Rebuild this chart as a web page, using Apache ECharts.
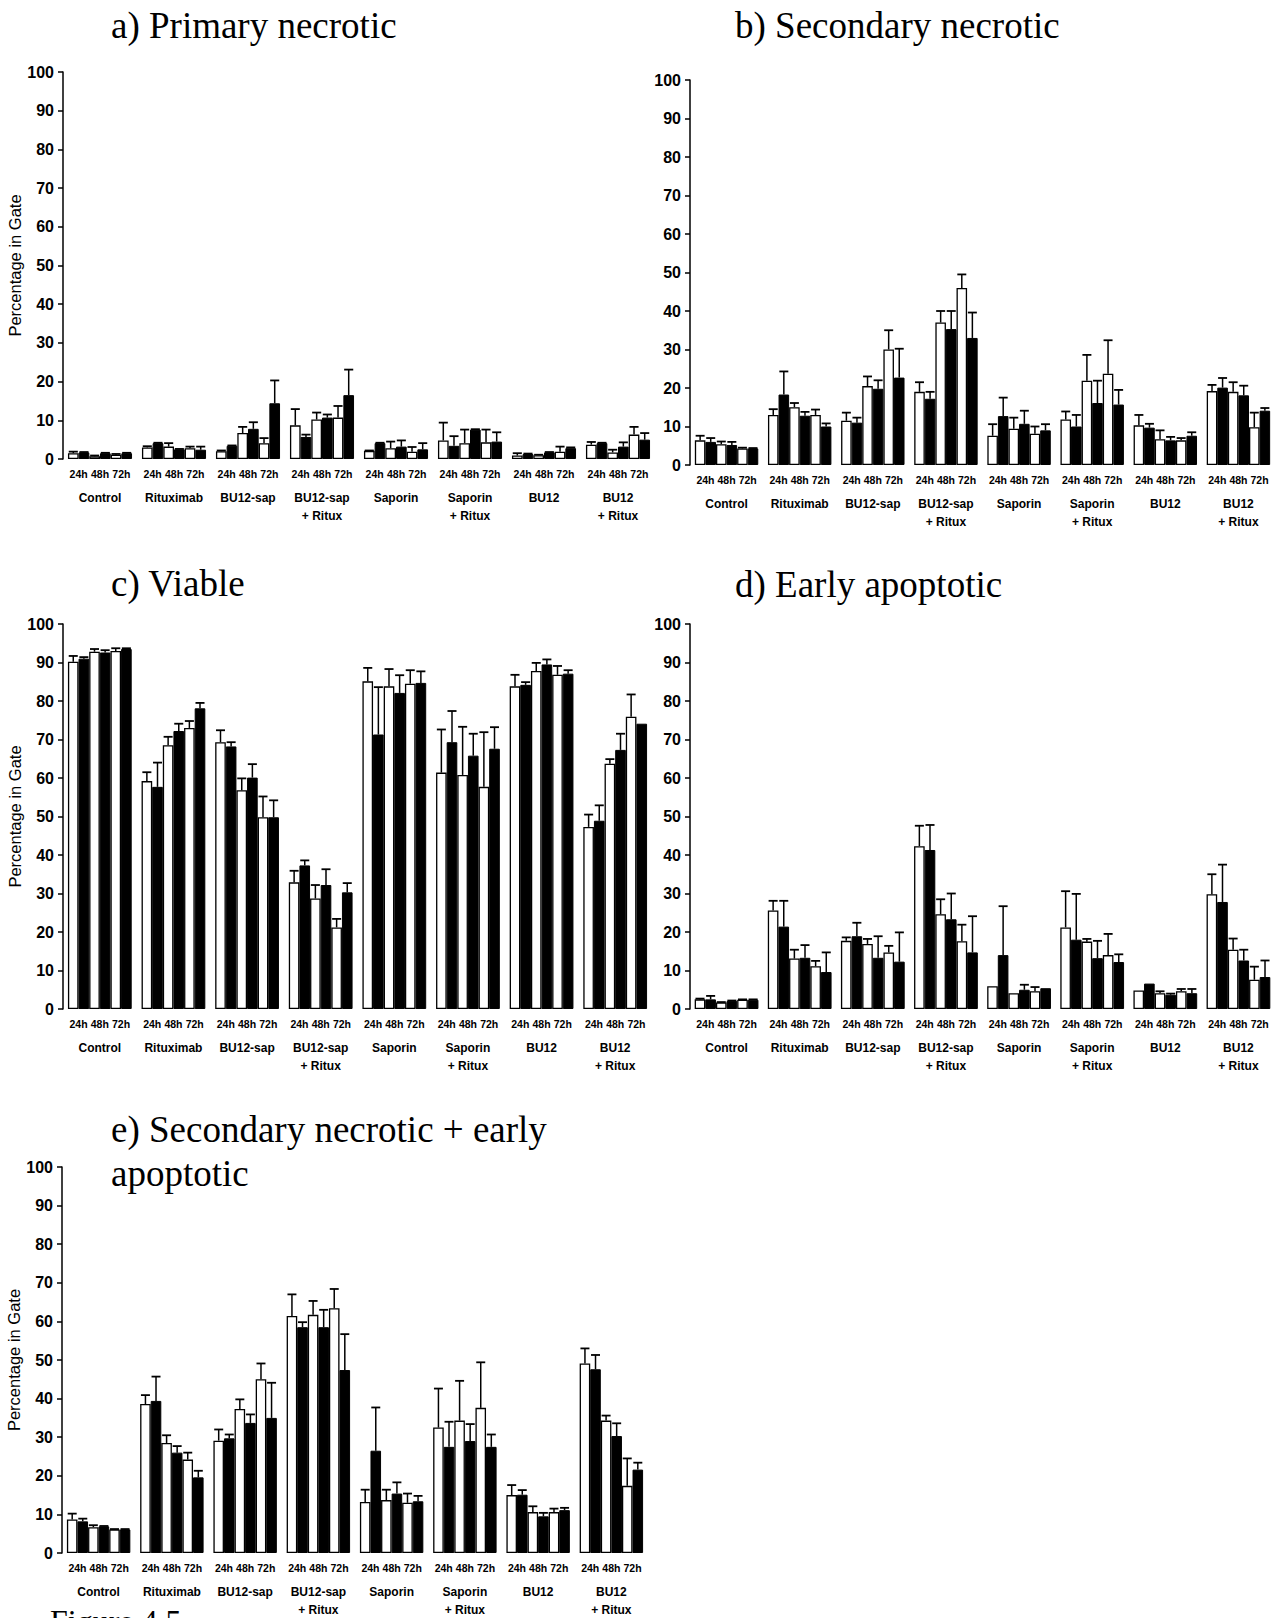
<!DOCTYPE html>
<html>
<head>
<meta charset="utf-8">
<script src="https://cdn.jsdelivr.net/npm/echarts@6/dist/echarts.min.js"></script>
<style>
html,body{margin:0;padding:0;background:#fff}
#chart{width:1275px;height:1618px}
</style>
</head>
<body>
<div id="chart"></div>
<script>
// ---------- DATA ----------
const categories = ['Control', 'Rituximab', 'BU12-sap', 'BU12-sap\n+ Ritux', 'Saporin', 'Saporin\n+ Ritux', 'BU12', 'BU12\n+ Ritux'];
const timeLabels = ['24h', '48h', '72h'];
const yAxisName = 'Percentage in Gate';
// each group: [24h white, 24h black, 48h white, 48h black, 72h white, 72h black]

const primaryNecroticMean = [
  [1.5, 1.7, 0.7, 1.5, 1.1, 1.5],
  [3.0, 4.1, 3.2, 2.5, 2.8, 2.4],
  [2.0, 3.4, 6.7, 7.8, 4.1, 14.4],
  [8.7, 5.7, 10.2, 10.7, 10.7, 16.5],
  [2.1, 4.1, 2.8, 3.2, 1.9, 2.5],
  [4.8, 3.4, 4.1, 7.6, 4.3, 4.5],
  [0.9, 1.3, 1.0, 1.7, 1.9, 2.8],
  [3.7, 4.1, 1.7, 3.2, 6.3, 5.0]
];
const primaryNecroticErr = [
  [0.4, 0.1, 0.2, 0.1, 0.2, 0.1],
  [0.3, 0.1, 0.9, 0.1, 0.4, 0.8],
  [0.2, 0.1, 1.6, 1.7, 1.3, 5.9],
  [4.2, 0.6, 1.8, 0.8, 3.0, 6.6],
  [0.1, 0.1, 1.7, 1.6, 1.2, 1.6],
  [4.6, 2.5, 3.5, 0.1, 3.3, 2.4],
  [0.6, 0.1, 0.1, 0.1, 1.3, 0.2],
  [0.7, 0.1, 0.7, 1.1, 2.0, 1.7]
];

const secondaryNecroticMean = [
  [6.4, 6.0, 5.4, 5.2, 4.3, 4.3],
  [13.0, 18.3, 15.0, 12.8, 13.0, 10.0],
  [11.5, 11.0, 20.5, 19.8, 30.0, 22.7],
  [19.0, 17.2, 37.0, 35.3, 46.0, 33.0],
  [7.6, 12.7, 9.4, 10.7, 8.1, 9.0],
  [11.8, 10.0, 21.9, 16.1, 23.7, 15.7],
  [10.3, 9.7, 6.7, 6.4, 6.4, 7.6],
  [19.2, 20.1, 19.0, 18.1, 9.8, 14.1]
];
const secondaryNecroticErr = [
  [1.2, 1.0, 0.7, 0.8, 0.2, 0.1],
  [1.5, 6.0, 1.1, 1.0, 1.4, 0.8],
  [2.1, 1.3, 2.5, 2.2, 5.0, 7.5],
  [2.5, 1.8, 3.0, 4.7, 3.5, 6.6],
  [3.0, 4.8, 2.9, 3.4, 1.9, 1.6],
  [2.1, 3.0, 6.7, 5.8, 8.7, 3.8],
  [2.7, 1.0, 2.3, 0.9, 0.6, 0.9],
  [1.6, 2.5, 2.5, 2.5, 3.8, 0.7]
];

const viableMean = [
  [90.2, 91.0, 92.8, 92.6, 93.0, 93.5],
  [59.2, 57.7, 68.5, 72.2, 73.0, 78.1],
  [69.3, 68.2, 56.8, 60.1, 49.8, 49.8],
  [32.9, 37.3, 28.7, 32.2, 21.2, 30.3],
  [85.1, 71.3, 83.8, 82.1, 84.5, 84.7],
  [61.4, 69.3, 60.8, 65.8, 57.7, 67.6],
  [83.8, 84.2, 87.8, 89.5, 86.8, 87.1],
  [47.3, 48.9, 63.7, 67.3, 75.9, 74.1]
];
const viableErr = [
  [1.5, 0.4, 0.7, 0.6, 0.7, 0.2],
  [2.3, 6.3, 2.2, 1.9, 1.8, 1.4],
  [3.1, 1.1, 3.1, 3.5, 5.4, 4.4],
  [3.0, 1.3, 3.5, 4.1, 2.2, 2.4],
  [3.5, 12.3, 4.5, 4.6, 3.5, 3.0],
  [11.2, 8.1, 12.5, 5.7, 14.2, 5.6],
  [3.0, 0.7, 2.1, 1.3, 2.3, 0.9],
  [3.2, 4.0, 1.2, 4.2, 5.8, 0]
];

const earlyApoptoticMean = [
  [2.5, 2.5, 1.7, 2.1, 2.4, 2.4],
  [25.6, 21.4, 13.1, 13.3, 11.1, 9.6],
  [17.7, 18.9, 16.9, 13.3, 14.7, 12.3],
  [42.3, 41.3, 24.6, 23.3, 17.6, 14.7],
  [5.9, 14.0, 4.1, 5.0, 4.6, 5.4],
  [21.2, 18.0, 17.5, 13.2, 14.0, 12.2],
  [4.8, 6.6, 4.1, 3.7, 4.6, 4.1],
  [29.8, 27.8, 15.4, 12.6, 7.6, 8.3]
];
const earlyApoptoticErr = [
  [0.2, 0.9, 0.1, 0.1, 0.1, 0.1],
  [2.5, 6.7, 2.3, 3.3, 1.4, 5.1],
  [0.9, 3.5, 1.3, 5.6, 1.7, 7.6],
  [5.3, 6.5, 3.9, 6.7, 4.3, 9.4],
  [0, 12.7, 0, 1.3, 1.1, 0],
  [9.4, 11.9, 0.7, 4.5, 5.5, 2.0],
  [0, 0, 0.5, 0.3, 0.6, 1.1],
  [5.2, 9.7, 2.9, 2.8, 3.4, 4.3]
];

const combinedMean = [
  [8.7, 8.2, 6.7, 6.9, 6.1, 6.1],
  [38.6, 39.4, 28.5, 26.0, 24.2, 19.6],
  [29.1, 29.7, 37.3, 33.7, 45.0, 35.0],
  [61.4, 58.5, 61.7, 58.5, 63.4, 47.4],
  [13.2, 26.5, 13.7, 15.4, 13.0, 13.4],
  [32.5, 27.5, 34.3, 29.0, 37.6, 27.5],
  [15.0, 15.1, 10.6, 9.5, 10.6, 11.1],
  [49.1, 47.6, 34.3, 30.3, 17.4, 21.6]
];
const combinedErr = [
  [1.5, 0.7, 0.5, 0.1, 0.1, 0.1],
  [2.3, 6.3, 2.0, 1.7, 1.8, 1.7],
  [2.9, 1.0, 2.5, 2.2, 4.1, 9.1],
  [5.6, 1.3, 3.6, 4.5, 5.0, 9.3],
  [3.2, 11.2, 2.7, 2.9, 2.4, 1.4],
  [10.1, 6.5, 10.3, 4.4, 11.8, 3.2],
  [2.6, 1.2, 1.5, 0.9, 0.9, 0.6],
  [3.9, 3.7, 1.3, 3.3, 7.1, 1.8]
];

// ---------- LAYOUT ----------
const panels = [
  { title: 'a) Primary necrotic', mean: primaryNecroticMean, err: primaryNecroticErr,
    grid: { left: 63, top: 72, width: 592, height: 387 }, titlePos: { left: 106, top: -2 }, yName: true },
  { title: 'b) Secondary necrotic', mean: secondaryNecroticMean, err: secondaryNecroticErr,
    grid: { left: 690, top: 80, width: 586, height: 385 }, titlePos: { left: 730, top: -2 }, yName: false },
  { title: 'c) Viable', mean: viableMean, err: viableErr,
    grid: { left: 63, top: 624, width: 589, height: 385 }, titlePos: { left: 106, top: 556 }, yName: true },
  { title: 'd) Early apoptotic', mean: earlyApoptoticMean, err: earlyApoptoticErr,
    grid: { left: 690, top: 624, width: 589, height: 385 }, titlePos: { left: 730, top: 557 }, yName: false },
  { title: 'e) Secondary necrotic + early\napoptotic', mean: combinedMean, err: combinedErr,
    grid: { left: 62, top: 1167, width: 586, height: 386 }, titlePos: { left: 106, top: 1102 }, yName: true }
];

const SANS = 'Liberation Sans, Arial, sans-serif';
const SERIF = 'Liberation Serif, Times New Roman, serif';

const grids = [], xAxes = [], yAxes = [], series = [], titles = [];

panels.forEach((p, pi) => {
  const band = p.grid.width / categories.length;
  const bw = band * 0.866 / 6;
  grids.push(Object.assign({ containLabel: false }, p.grid));
  titles.push({
    text: p.title, left: p.titlePos.left, top: p.titlePos.top,
    textStyle: { fontFamily: SERIF, fontSize: 37, fontWeight: 'normal', color: '#000', lineHeight: 44 }
  });
  xAxes.push({
    type: 'category', gridIndex: pi, data: categories,
    axisLine: { show: false }, axisTick: { show: false }, splitLine: { show: false },
    axisLabel: {
      interval: 0, margin: 8, hideOverlap: false, color: '#000',
      formatter: (value) => {
        const lines = value.split('\n');
        return timeLabels.map(t => '{t|' + t + '}').join('') + '\n{sp| }\n' +
          lines.map(s => '{g|' + s + '}').join('\n');
      },
      rich: {
        t: { width: 2 * bw, align: 'center', fontFamily: SANS, fontSize: 10.5, fontWeight: 'bold', lineHeight: 14, color: '#000' },
        sp: { fontSize: 2, lineHeight: 8 },
        g: { fontFamily: SANS, fontSize: 12, fontWeight: 'bold', lineHeight: 18, color: '#000', align: 'center' }
      }
    }
  });
  yAxes.push({
    type: 'value', gridIndex: pi, min: 0, max: 100, interval: 10,
    name: p.yName ? yAxisName : '', nameLocation: 'middle', nameGap: 31,
    nameTextStyle: { fontFamily: SANS, fontSize: 16.5, color: '#000' },
    axisLine: { show: true, lineStyle: { color: '#000', width: 1.5 } },
    axisTick: { show: true, length: 5, lineStyle: { color: '#000', width: 1.5 } },
    axisLabel: { fontFamily: SANS, fontSize: 16, fontWeight: 'bold', color: '#000', margin: 9 },
    splitLine: { show: false }
  });
  for (let k = 0; k < 6; k++) {
    const white = k % 2 === 0;
    series.push({
      type: 'bar', xAxisIndex: pi, yAxisIndex: pi,
      data: p.mean.map(g => g[k]),
      barWidth: bw, barGap: '0%',
      itemStyle: white ? { color: '#fff', borderColor: '#000', borderWidth: 1.3 }
                       : { color: '#000', borderColor: '#000', borderWidth: 1 },
      silent: true
    });
  }
  const errData = [];
  p.mean.forEach((g, gi) => g.forEach((v, k) => {
    if (p.err[gi][k] > 0) errData.push([gi, k, v, p.err[gi][k]]);
  }));
  series.push({
    type: 'custom', xAxisIndex: pi, yAxisIndex: pi, silent: true,
    encode: { x: 0, y: 2 },
    data: errData,
    renderItem: (params, api) => {
      const g = api.value(0), k = api.value(1), v = api.value(2), e = api.value(3);
      const p0 = api.coord([g, v]);
      const p1 = api.coord([g, v + e]);
      const x = p0[0] + (k - 2.5) * bw;
      const cap = bw * 0.85;
      return {
        type: 'group',
        children: [
          { type: 'line', shape: { x1: x, y1: p0[1], x2: x, y2: p1[1] }, style: { stroke: '#000', lineWidth: 1.5 } },
          { type: 'line', shape: { x1: x - cap / 2, y1: p1[1], x2: x + cap / 2, y2: p1[1] }, style: { stroke: '#000', lineWidth: 1.8 } }
        ]
      };
    }
  });
});

titles.push({
  text: 'Figure 4.5', left: 45, top: 1600,
  textStyle: { fontFamily: SERIF, fontSize: 32, fontWeight: 'normal', color: '#000' }
});

const chart = echarts.init(document.getElementById('chart'), null, { renderer: 'svg' });
chart.setOption({
  animation: false,
  backgroundColor: '#fff',
  title: titles,
  grid: grids,
  xAxis: xAxes,
  yAxis: yAxes,
  series: series
});
</script>
</body>
</html>
